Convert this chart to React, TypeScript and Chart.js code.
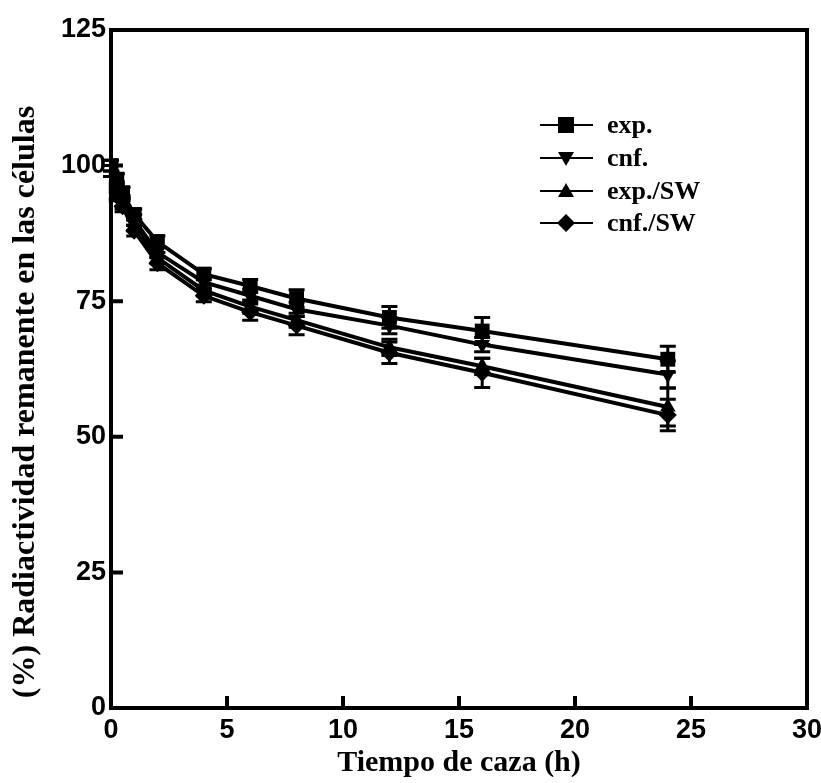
import React, { useEffect, useRef } from "react";
import { Chart, registerables } from "chart.js";

Chart.register(...registerables);

const times = [0, 0.25, 0.5, 1, 2, 4, 6, 8, 12, 16, 24];
const expVals = [100, 97.5, 95, 91, 86, 80, 77.8, 75.5, 72, 69.5, 64.3];
const cnfVals = [100, 96, 93.5, 90, 84, 78.5, 76, 73.5, 70.5, 67, 61.5];
const expSWVals = [99, 95, 93, 89, 83, 77, 74, 71.5, 66.5, 63, 55.5];
const cnfSWVals = [99, 94.5, 92.5, 88, 82, 76, 73, 70.5, 65.5, 61.8, 54];
const expErr = [1, 1, 1, 1, 1, 1, 1.2, 1.6, 2, 2.5, 2.4];
const cnfErr = [1, 1, 1, 1, 1, 1, 1.2, 1.3, 1.5, 1.3, 2.5];
const expSWErr = [1, 1, 1, 1, 1, 1, 1.2, 1.3, 1.5, 1.5, 3.5];
const cnfSWErr = [1, 1, 1, 1, 1.2, 1.1, 1.5, 1.7, 2, 2.7, 2.9];
const seriesNames = ["exp.", "cnf.", "exp./SW", "cnf./SW"];
const xTicks = [0, 5, 10, 15, 20, 25, 30];
const yTicks = [0, 25, 50, 75, 100, 125];
const xTitle = "Tiempo de caza (h)";
const yTitle = "(%) Radiactividad remanente en las células";

const seriesVals = [expVals, cnfVals, expSWVals, cnfSWVals];
const seriesErr = [expErr, cnfErr, expSWErr, cnfSWErr];
const styles = [
  { pointStyle: "rect", rotation: 0, radius: 10.5 },
  { pointStyle: "triangle", rotation: 180, radius: 9 },
  { pointStyle: "triangle", rotation: 0, radius: 9 },
  { pointStyle: "rectRot", rotation: 0, radius: 9 },
];

const errorBarPlugin = {
  id: "errorBars",
  beforeDatasetsDraw(chart: any) {
    const ctx = chart.ctx;
    const xs = chart.scales.x;
    const ys = chart.scales.y;
    ctx.save();
    ctx.strokeStyle = "#000";
    ctx.lineWidth = 3;
    seriesVals.forEach((vals, si) => {
      vals.forEach((v, i) => {
        const e = seriesErr[si][i];
        const px = xs.getPixelForValue(times[i]);
        const top = ys.getPixelForValue(v + e);
        const bot = ys.getPixelForValue(v - e);
        ctx.beginPath();
        ctx.moveTo(px, top);
        ctx.lineTo(px, bot);
        ctx.moveTo(px - 8, top);
        ctx.lineTo(px + 8, top);
        ctx.moveTo(px - 8, bot);
        ctx.lineTo(px + 8, bot);
        ctx.stroke();
      });
    });
    ctx.restore();
  },
};

const framePlugin = {
  id: "frameDecor",
  afterDraw(chart: any) {
    const ctx = chart.ctx;
    const a = chart.chartArea;
    const xs = chart.scales.x;
    const ys = chart.scales.y;
    ctx.save();
    ctx.strokeStyle = "#000";
    ctx.lineWidth = 4;
    ctx.strokeRect(a.left, a.top, a.right - a.left, a.bottom - a.top);
    ctx.beginPath();
    xTicks.slice(1, -1).forEach((t) => {
      const px = xs.getPixelForValue(t);
      ctx.moveTo(px, a.bottom);
      ctx.lineTo(px, a.bottom - 12);
    });
    yTicks.slice(1, -1).forEach((t) => {
      const py = ys.getPixelForValue(t);
      ctx.moveTo(a.left, py);
      ctx.lineTo(a.left + 12, py);
    });
    ctx.stroke();

    // axis titles
    ctx.fillStyle = "#000";
    ctx.font = "bold 30px 'Liberation Serif', 'Times New Roman', serif";
    ctx.textAlign = "center";
    ctx.textBaseline = "middle";
    ctx.fillText(xTitle, (a.left + a.right) / 2, 763);
    ctx.save();
    ctx.translate(26, 402);
    ctx.rotate(-Math.PI / 2);
    ctx.font = "bold 32px 'Liberation Serif', 'Times New Roman', serif";
    ctx.fillText(yTitle, 0, 0);
    ctx.restore();

    // legend
    const rows = [125, 158, 191, 223];
    ctx.font = "bold 26px 'Liberation Serif', 'Times New Roman', serif";
    ctx.textAlign = "left";
    rows.forEach((ry, i) => {
      ctx.lineWidth = 2;
      ctx.beginPath();
      ctx.moveTo(540, ry);
      ctx.lineTo(593, ry);
      ctx.stroke();
      ctx.fillStyle = "#000";
      ctx.beginPath();
      if (i === 0) {
        ctx.rect(566 - 8, ry - 8, 16, 16);
      } else if (i === 1) {
        ctx.moveTo(566 - 8, ry - 6);
        ctx.lineTo(566 + 8, ry - 6);
        ctx.lineTo(566, ry + 8);
      } else if (i === 2) {
        ctx.moveTo(566 - 8, ry + 6);
        ctx.lineTo(566 + 8, ry + 6);
        ctx.lineTo(566, ry - 8);
      } else {
        ctx.moveTo(566, ry - 9);
        ctx.lineTo(566 + 9, ry);
        ctx.lineTo(566, ry + 9);
        ctx.lineTo(566 - 9, ry);
      }
      ctx.closePath();
      ctx.fill();
      ctx.fillText(seriesNames[i], 607, ry + 1);
    });
    ctx.restore();
  },
};

export default function App() {
  const ref = useRef<HTMLCanvasElement | null>(null);
  useEffect(() => {
    if (!ref.current) return;
    const tickFont = { family: "'Liberation Sans', Arial, sans-serif", size: 27, weight: "bold" as const };
    const chart = new Chart(ref.current, {
      type: "line",
      data: {
        datasets: seriesVals.map((vals, si) => ({
          label: seriesNames[si],
          data: vals.map((v, i) => ({ x: times[i], y: v })),
          borderColor: "#000",
          backgroundColor: "#000",
          borderWidth: 4,
          pointStyle: styles[si].pointStyle as any,
          rotation: styles[si].rotation,
          pointRadius: styles[si].radius,
          pointBorderWidth: 0,
          pointBackgroundColor: "#000",
          tension: 0,
          fill: false,
        })),
      },
      options: {
        animation: false,
        responsive: false,
        maintainAspectRatio: false,
        layout: { padding: { top: 30, right: 14, left: 0, bottom: 0 } },
        plugins: { legend: { display: false }, tooltip: { enabled: false } },
        scales: {
          x: {
            type: "linear",
            min: 0,
            max: 30,
            afterFit: (s: any) => { s.height = 75; s.paddingRight = 0; s.paddingLeft = 0; },
            afterBuildTicks: (s: any) => { s.ticks = xTicks.map((v) => ({ value: v })); },
            grid: { display: false, drawTicks: false },
            border: { display: false },
            ticks: { font: tickFont, color: "#000", padding: 6, autoSkip: false, maxRotation: 0 },
          },
          y: {
            type: "linear",
            min: 0,
            max: 125,
            afterFit: (s: any) => { s.width = 111; s.paddingTop = 0; s.paddingBottom = 0; },
            afterBuildTicks: (s: any) => { s.ticks = yTicks.map((v) => ({ value: v })); },
            grid: { display: false, drawTicks: false },
            border: { display: false },
            ticks: { font: tickFont, color: "#000", padding: 5 },
          },
        },
      },
      plugins: [errorBarPlugin, framePlugin],
    });
    return () => chart.destroy();
  }, []);
  return (
    <div style={{ position: "fixed", left: 0, top: 0, width: 821, height: 783, background: "#fff" }}>
      <canvas ref={ref} width={821} height={783} style={{ width: 821, height: 783 }} />
    </div>
  );
}
